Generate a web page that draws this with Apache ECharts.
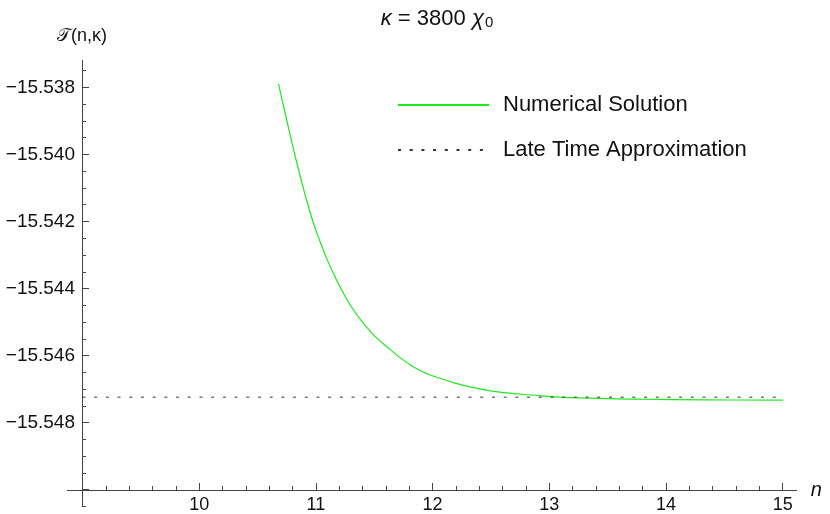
<!DOCTYPE html>
<html>
<head>
<meta charset="utf-8">
<script src="https://cdn.jsdelivr.net/npm/echarts@6/dist/echarts.min.js"></script>
<style>
  html, body { margin: 0; padding: 0; background: #fff; }
  #chart { width: 830px; height: 514px; }
</style>
</head>
<body>
<div id="chart"></div>
<script>
// numerical solution
const nValues = [10.68, 10.81, 10.92, 11.00, 11.13, 11.30, 11.47, 11.64, 11.81, 11.98, 12.41, 12.93, 13.35, 13.78, 14.35, 15.0];
const tauValues = [-15.53790, -15.53987, -15.54136, -15.54226, -15.54340, -15.54452, -15.54529, -15.54583, -15.54628,
  -15.54658, -15.54700, -15.54720, -15.54727, -15.54730, -15.54732, -15.54733];
// late time approximation (constant)
const lateN = [9, 15];
const lateTau = -15.54724;

// ticks
const xMajor = [9, 10, 11, 12, 13, 14, 15];
const xLabels = [10, 11, 12, 13, 14, 15];
const xMinor = [9.2, 9.4, 9.6, 9.8, 10.2, 10.4, 10.6, 10.8, 11.2, 11.4, 11.6, 11.8, 12.2, 12.4, 12.6, 12.8, 13.2, 13.4, 13.6, 13.8, 14.2, 14.4, 14.6, 14.8];
const yMajor = [-15.550, -15.548, -15.546, -15.544, -15.542, -15.540, -15.538];
const yLabels = [-15.548, -15.546, -15.544, -15.542, -15.540, -15.538];
const yMinor = [-15.5505, -15.5495, -15.549, -15.5485, -15.5475, -15.547, -15.5465, -15.5455, -15.545, -15.5445,
  -15.5435, -15.543, -15.5425, -15.5415, -15.541, -15.5405, -15.5395, -15.539, -15.5385, -15.5375];

const FONT = '"Liberation Sans", Arial, sans-serif';
const AXIS_COLOR = '#444';

const chart = echarts.init(document.getElementById('chart'));

const xRange = { min: 8.87, max: 15.12 };
const yRange = { min: -15.5505, max: -15.5372 };

const fmtY = v => '\u2212' + Math.abs(v).toFixed(3);

chart.setOption({
  animation: false,
  backgroundColor: '#fff',
  title: {
    text: '{i|\u03ba} = 3800 {i|\u03c7}{s|0}',
    left: 432,
    top: 2,
    textAlign: 'center',
    textStyle: {
      fontFamily: FONT, fontSize: 22, fontWeight: 'normal', color: '#111',
      rich: {
        i: { fontFamily: FONT, fontSize: 22, fontStyle: 'italic', color: '#111' },
        s: { fontFamily: FONT, fontSize: 15, color: '#111', verticalAlign: 'bottom', padding: [8, 0, 0, 1] }
      }
    }
  },
  legend: {
    orient: 'vertical',
    left: 397,
    top: 94,
    padding: 0,
    itemWidth: 91,
    itemHeight: 22,
    itemGap: 23,
    itemStyle: { color: 'transparent', borderColor: 'transparent', borderWidth: 0 },
    textStyle: { fontFamily: FONT, fontSize: 22, color: '#111', padding: [0, 0, 0, 9] },
    data: ['Numerical Solution', 'Late Time Approximation']
  },
  grid: { left: 67.3, top: 60.5, width: 729.4, height: 446, containLabel: false },
  xAxis: [
    {
      type: 'value', position: 'bottom', min: xRange.min, max: xRange.max, offset: -16.5,
      name: 'n', nameLocation: 'end', nameGap: 14,
      nameTextStyle: { fontFamily: FONT, fontSize: 20, fontStyle: 'italic', color: '#111', verticalAlign: 'middle' },
      axisLine: { lineStyle: { color: AXIS_COLOR, width: 1 } },
      axisTick: { inside: true, length: 7, customValues: xMajor, lineStyle: { color: AXIS_COLOR } },
      axisLabel: { customValues: xLabels, fontFamily: FONT, fontSize: 18, color: '#111', margin: 6 },
      splitLine: { show: false }
    },
    {
      type: 'value', position: 'bottom', min: xRange.min, max: xRange.max, offset: -16.5,
      axisLine: { show: false },
      axisTick: { inside: true, length: 4, customValues: xMinor, lineStyle: { color: AXIS_COLOR } },
      axisLabel: { show: false },
      splitLine: { show: false }
    }
  ],
  yAxis: [
    {
      type: 'value', position: 'left', min: yRange.min, max: yRange.max, offset: -14.7,
      name: '\ud835\udcaf(n,\u03ba)', nameLocation: 'end', nameGap: 15,
      nameTextStyle: { fontFamily: FONT, fontSize: 18, color: '#111', align: 'center' },
      axisLine: { lineStyle: { color: AXIS_COLOR, width: 1 } },
      axisTick: { inside: true, length: 7, customValues: yMajor, lineStyle: { color: AXIS_COLOR } },
      axisLabel: { customValues: yLabels, formatter: fmtY, fontFamily: FONT, fontSize: 19, color: '#111', margin: 7 },
      splitLine: { show: false }
    },
    {
      type: 'value', position: 'left', min: yRange.min, max: yRange.max, offset: -14.7,
      axisLine: { show: false },
      axisTick: { inside: true, length: 4, customValues: yMinor, lineStyle: { color: AXIS_COLOR } },
      axisLabel: { show: false },
      splitLine: { show: false }
    }
  ],
  series: [
    {
      name: 'Numerical Solution',
      type: 'line',
      xAxisIndex: 0, yAxisIndex: 0,
      smooth: 0.4,
      symbol: 'none',
      lineStyle: { color: '#1ee81e', width: 1.2 },
      itemStyle: { color: '#1ee81e' },
      data: nValues.map((n, i) => [n, tauValues[i]])
    },
    {
      name: 'Late Time Approximation',
      type: 'line',
      xAxisIndex: 0, yAxisIndex: 0,
      symbol: 'none',
      lineStyle: { color: '#333', width: 1, type: [3, 8.7] },
      itemStyle: { color: '#333' },
      data: lateN.map(n => [n, lateTau])
    }
  ]
});
</script>
</body>
</html>
